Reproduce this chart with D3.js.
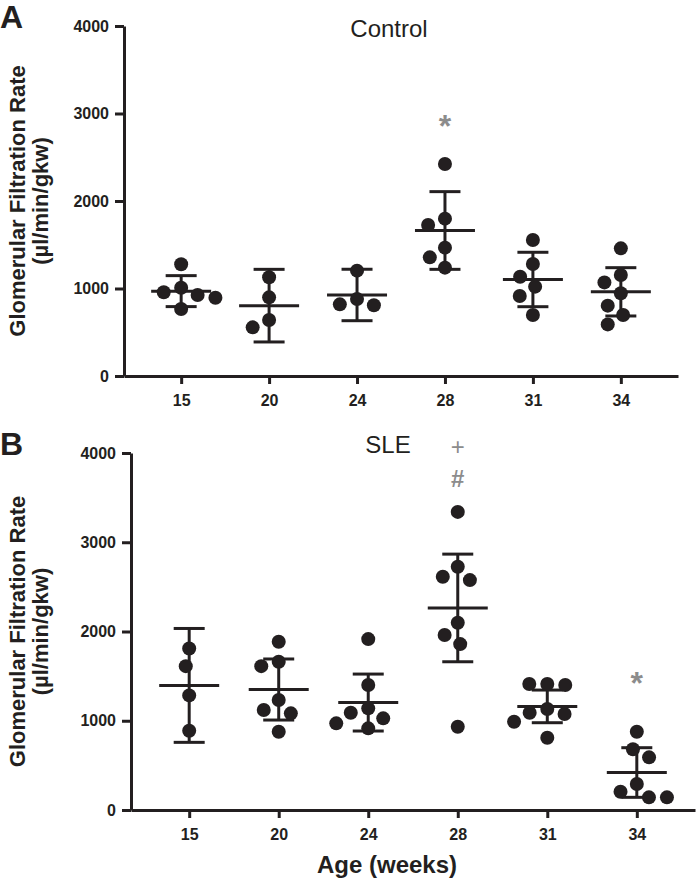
<!DOCTYPE html>
<html>
<head>
<meta charset="utf-8">
<script src="https://cdn.jsdelivr.net/npm/d3@7"></script>
<style>
  body { margin: 0; background: #fff; }
  svg text { font-family: "Liberation Sans", Arial, sans-serif; }
</style>
</head>
<body>
<div id="chart"></div>
<script>
const ages = ["15", "20", "24", "28", "31", "34"];

// Control group, one array of readings per age
const controlValues = [
  [1277, 1009, 957, 926, 895, 766],
  [1128, 899, 640, 556],
  [1204, 880, 819, 808],
  [2423, 1798, 1726, 1467, 1356, 1238],
  [1554, 1280, 1135, 1021, 914, 697],
  [1459, 1154, 1070, 945, 804, 697, 590],
];
const controlMean = [970, 804, 926, 1663, 1103, 962];
const controlSd = [177, 415, 294, 444, 311, 276];

// SLE group
const sleValues = [
  [1810, 1612, 1284, 888],
  [1885, 1661, 1612, 1232, 1120, 1083, 877],
  [1915, 1400, 1139, 1090, 1027, 971, 915],
  [3340, 2725, 2613, 2576, 2098, 1960, 1859, 933],
  [1411, 1411, 1400, 1131, 1090, 1075, 989, 809],
  [877, 680, 590, 291, 205, 142, 142],
];
const sleMean = [1396, 1350, 1204, 2264, 1161, 420];
const sleSd = [638, 342, 319, 603, 183, 278];

// significance marks (value = where the symbol sits)
const controlMarks = [{ age: "28", label: "*", value: 2950 }];
const sleMarks = [
  { age: "28", label: "+", value: 4070 },
  { age: "28", label: "#", value: 3714 },
  { age: "34", label: "*", value: 1512 },
];

const yTicks = [0, 1000, 2000, 3000, 4000];

const width = 696;
const height = 884;
const ink = "#231f20";
const grey = "#8c8c8c";
const dotR = 7;

const panels = [
  {
    letter: "A", title: "Control", values: controlValues, mean: controlMean,
    sd: controlSd, marks: controlMarks,
    left: 124, right: 678, top: 26, bottom: 376, titleX: 389, titleY: 37, letterY: 28,
  },
  {
    letter: "B", title: "SLE", values: sleValues, mean: sleMean,
    sd: sleSd, marks: sleMarks,
    left: 131, right: 695, top: 453, bottom: 810, titleX: 388, titleY: 453, letterY: 455,
  },
];

const svg = d3
  .select("#chart")
  .append("svg")
  .attr("width", width)
  .attr("height", height);

// simple beeswarm: each dot goes to the free spot nearest the centre line
const swarm = (vals, yScale, gap) => {
  const placed = [];
  return vals.map((v) => {
    const py = yScale(v);
    const blocks = placed
      .filter((p) => Math.abs(p.y - py) < gap)
      .map((p) => {
        const dx = Math.sqrt(gap * gap - (p.y - py) ** 2);
        return [p.x - dx, p.x + dx];
      });
    const candidates = [0, ...blocks.flat()].sort(
      (a, b) => Math.abs(a) - Math.abs(b)
    );
    const px = candidates.find((c) =>
      blocks.every(([a, b]) => c <= a + 0.01 || c >= b - 0.01)
    );
    const pt = { x: px, y: py, v };
    placed.push(pt);
    return pt;
  });
};

const styleAxis = (a) => {
  a.selectAll("path, line").attr("stroke", ink).attr("stroke-width", 3);
  a.selectAll("text")
    .attr("fill", ink)
    .attr("font-size", 16)
    .attr("font-weight", "bold")
    .attr("font-family", "Liberation Sans, Arial, sans-serif");
};

const drawPanel = (p) => {
  const x = d3
    .scalePoint()
    .domain(ages)
    .range([p.left, p.right])
    .padding(0.65);
  const y = d3.scaleLinear().domain([0, 4000]).range([p.bottom, p.top]);

  const g = svg.append("g");

  // axes
  const yAxis = d3
    .axisLeft(y)
    .tickValues(yTicks)
    .tickFormat(d3.format("d"))
    .tickSize(9)
    .tickSizeOuter(0)
    .tickPadding(6);
  g.append("g")
    .attr("transform", `translate(${p.left},0)`)
    .call(yAxis)
    .call(styleAxis);

  const xAxis = d3.axisBottom(x).tickSize(8).tickSizeOuter(0).tickPadding(11);
  g.append("g")
    .attr("transform", `translate(0,${p.bottom})`)
    .call(xAxis)
    .call(styleAxis);

  // y axis title
  const yc = (p.top + p.bottom) / 2;
  const yTitle = g
    .append("text")
    .attr("transform", `translate(25,${yc}) rotate(-90)`)
    .attr("text-anchor", "middle")
    .attr("font-size", 22)
    .attr("font-weight", "bold")
    .attr("fill", ink);
  yTitle.append("tspan").attr("x", 0).attr("y", 0).text("Glomerular Filtration Rate");
  yTitle.append("tspan").attr("x", 0).attr("y", 23).text("(µl/min/gkw)");

  // panel letter and title
  g.append("text")
    .attr("x", 0)
    .attr("y", p.letterY)
    .attr("font-size", 32)
    .attr("font-weight", "bold")
    .attr("fill", ink)
    .text(p.letter);
  g.append("text")
    .attr("x", p.titleX)
    .attr("y", p.titleY)
    .attr("text-anchor", "middle")
    .attr("font-size", 24)
    .attr("fill", ink)
    .text(p.title);

  // per-age groups
  ages.forEach((age, i) => {
    const cx = x(age);
    const m = p.mean[i];
    const s = p.sd[i];
    const grp = g.append("g");

    grp.append("line")
      .attr("x1", cx).attr("x2", cx)
      .attr("y1", y(m + s)).attr("y2", y(Math.max(m - s, 0)));
    [m + s, m - s].forEach((v) => {
      grp.append("line")
        .attr("x1", cx - 15.5).attr("x2", cx + 15.5)
        .attr("y1", y(v)).attr("y2", y(v));
    });
    grp.append("line")
      .attr("x1", cx - 30).attr("x2", cx + 30)
      .attr("y1", y(m)).attr("y2", y(m));
    grp.selectAll("line").attr("stroke", ink).attr("stroke-width", 3);

    const pts = swarm(p.values[i], y, dotR * 2 + 4);
    grp.selectAll("circle")
      .data(pts)
      .join("circle")
      .attr("cx", (d) => cx + d.x)
      .attr("cy", (d) => d.y)
      .attr("r", dotR)
      .attr("fill", ink);
  });

  // significance symbols
  g.selectAll(".mark")
    .data(p.marks)
    .join("text")
    .attr("class", "mark")
    .attr("x", (d) => x(d.age))
    .attr("y", (d) => y(d.value))
    .attr("dy", (d) => (d.label === "*" ? "0.6em" : "0.36em"))
    .attr("text-anchor", "middle")
    .attr("font-size", (d) => (d.label === "*" ? 32 : 24))
    .attr("font-weight", (d) => (d.label === "+" ? "normal" : "bold"))
    .attr("fill", grey)
    .text((d) => d.label);
};

panels.forEach(drawPanel);

svg.append("text")
  .attr("x", 387)
  .attr("y", 873)
  .attr("text-anchor", "middle")
  .attr("font-size", 24)
  .attr("font-weight", "bold")
  .attr("fill", ink)
  .text("Age (weeks)");
</script>
</body>
</html>
